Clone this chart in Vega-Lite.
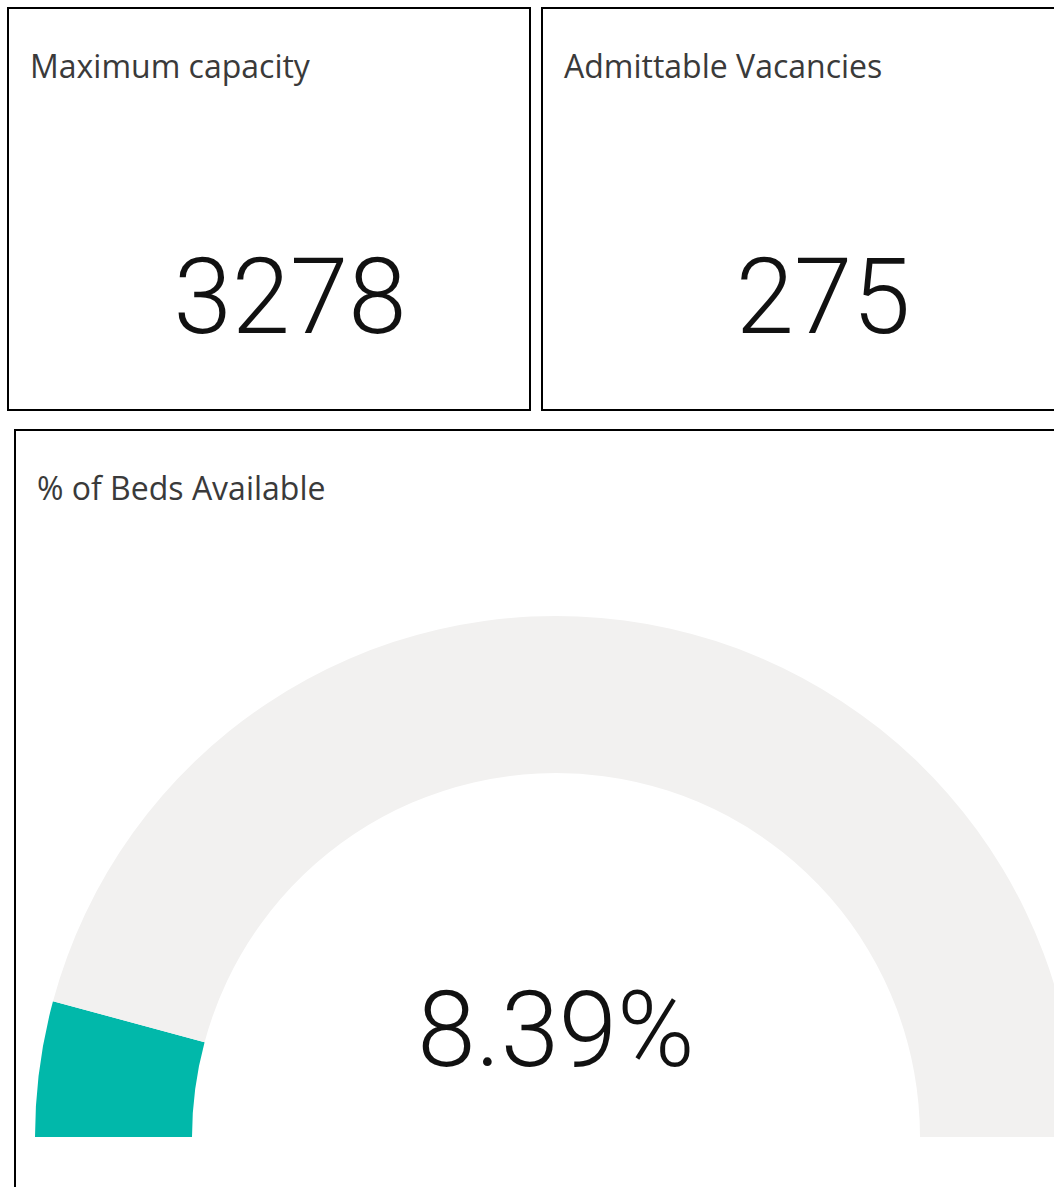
{
  "$schema": "https://vega.github.io/schema/vega-lite/v6.json",
  "padding": {"left": 7, "top": 7, "right": 0, "bottom": 0},
  "background": "#ffffff",
  "config": {
    "view": {"stroke": null},
    "text": {"font": "Open Sans"}
  },
  "spacing": 13,
  "vconcat": [
    {
      "spacing": 10,
      "hconcat": [
        {
          "width": 522,
          "height": 402,
          "view": {"stroke": "#000000", "strokeWidth": 2},
          "data": {"values": [{"metric": "Maximum capacity", "value": 3278}]},
          "layer": [
            {
              "mark": {"type": "text", "x": 22, "y": 70, "align": "left", "baseline": "alphabetic", "fontSize": 32, "font": "Open Sans", "color": "#3a3a3a"},
              "encoding": {"text": {"field": "metric"}}
            },
            {
              "mark": {"type": "text", "x": 282, "y": 325, "align": "center", "baseline": "alphabetic", "fontSize": 105, "font": "Roboto", "fontWeight": 300, "color": "#111111"},
              "encoding": {"text": {"field": "value", "format": "d"}}
            }
          ]
        },
        {
          "width": 513,
          "height": 402,
          "view": {"stroke": "#000000", "strokeWidth": 2},
          "data": {"values": [{"metric": "Admittable Vacancies", "value": 275}]},
          "layer": [
            {
              "mark": {"type": "text", "x": 22, "y": 70, "align": "left", "baseline": "alphabetic", "fontSize": 32, "font": "Open Sans", "color": "#3a3a3a"},
              "encoding": {"text": {"field": "metric"}}
            },
            {
              "mark": {"type": "text", "x": 281, "y": 325, "align": "center", "baseline": "alphabetic", "fontSize": 105, "font": "Roboto", "fontWeight": 300, "color": "#111111"},
              "encoding": {"text": {"field": "value", "format": "d"}}
            }
          ]
        }
      ]
    },
    {
      "spacing": 5,
      "hconcat": [
        {
          "width": 1,
          "height": 1,
          "data": {"values": [{"blank": ""}]},
          "mark": {"type": "text", "opacity": 0},
          "encoding": {"text": {"field": "blank"}}
        },
        {
          "width": 1041,
          "height": 758,
          "view": {"stroke": "#000000", "strokeWidth": 2},
          "data": {"values": [
            {"segment": "Available", "share": 0.0839},
            {"segment": "Remaining", "share": 0.9161}
          ]},
          "layer": [
            {
              "mark": {"type": "arc", "x": 541, "y": 707, "outerRadius": 521, "innerRadius": 364, "clip": true},
              "encoding": {
                "theta": {"field": "share", "type": "quantitative", "stack": true, "scale": {"domain": [0, 1], "range": [-1.5708, 1.5708]}},
                "color": {"field": "segment", "type": "nominal", "scale": {"domain": ["Available", "Remaining"], "range": ["#01B8AA", "#F2F1F0"]}, "legend": null},
                "order": {"field": "segment", "sort": "ascending"}
              }
            },
            {
              "transform": [{"filter": "datum.segment === 'Available'"}],
              "mark": {"type": "text", "x": 541, "y": 636, "align": "center", "baseline": "alphabetic", "fontSize": 105, "font": "Roboto", "fontWeight": 300, "color": "#111111"},
              "encoding": {"text": {"field": "share", "format": ".2%"}}
            },
            {
              "transform": [{"filter": "datum.segment === 'Available'"}],
              "mark": {"type": "text", "x": 22, "y": 70, "align": "left", "baseline": "alphabetic", "fontSize": 32, "font": "Open Sans", "color": "#3a3a3a"},
              "encoding": {"text": {"value": "% of Beds Available"}}
            }
          ]
        }
      ]
    }
  ]
}
